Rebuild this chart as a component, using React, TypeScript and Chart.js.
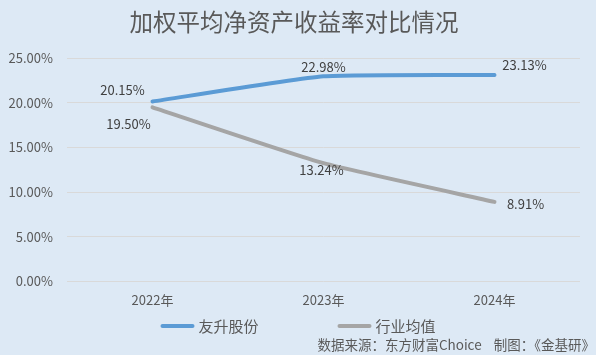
import React, { useEffect, useRef } from "react";
import { Chart, registerables } from "chart.js";

Chart.register(...registerables);

const categories = ["2022年", "2023年", "2024年"];
const seriesNames = ["友升股份", "行业均值"];
const youshengValues = [20.15, 22.98, 23.13];
const industryValues = [19.5, 13.24, 8.91];
const yTicks = [0, 5, 10, 15, 20, 25];
const colors = ["#5b9bd5", "#a5a5a5"];

const FONT = '"Microsoft YaHei", "Noto Sans CJK SC", "Noto Sans", sans-serif';

// label offsets (dx, dy) per series per point
const labelOffsets = [
  [[-30, -11], [0, -9], [30, -10]],
  [[-24, 17], [-2, 7], [31, 2]],
];

const labelPlugin = {
  id: "labels",
  afterDatasetsDraw(chart: any) {
    const ctx = chart.ctx;
    ctx.save();
    ctx.font = "13px " + FONT;
    ctx.fillStyle = "#404040";
    ctx.textAlign = "center";
    ctx.textBaseline = "middle";
    chart.data.datasets.forEach((ds: any, di: number) => {
      const meta = chart.getDatasetMeta(di);
      meta.data.forEach((pt: any, i: number) => {
        const [dx, dy] = labelOffsets[di][i];
        ctx.fillText(ds.data[i].toFixed(2) + "%", pt.x + dx, pt.y + dy);
      });
    });
    ctx.restore();
  },
};

const legendPlugin = {
  id: "customLegend",
  afterDraw(chart: any) {
    const ctx = chart.ctx;
    ctx.save();
    ctx.font = "15px " + FONT;
    ctx.textBaseline = "middle";
    const lineW = 34;
    const gap = 4;
    const itemGap = 79;
    const widths = seriesNames.map((n) => ctx.measureText(n).width);
    const total = widths.reduce((a, w) => a + lineW + gap + w, 0) + itemGap * (seriesNames.length - 1);
    let x = chart.width / 2 - total / 2;
    const y = 326;
    seriesNames.forEach((n, i) => {
      ctx.strokeStyle = colors[i];
      ctx.lineWidth = 4;
      ctx.lineCap = "round";
      ctx.beginPath();
      ctx.moveTo(x + 2, y);
      ctx.lineTo(x + lineW - 2, y);
      ctx.stroke();
      x += lineW + gap;
      ctx.fillStyle = "#595959";
      ctx.textAlign = "left";
      ctx.fillText(n, x, y);
      x += widths[i] + itemGap;
    });
    ctx.font = "13.5px " + FONT;
    ctx.textAlign = "right";
    ctx.fillText("数据来源：东方财富Choice    制图：《金基研》", 595, 345);
    ctx.restore();
  },
};

const bgPlugin = {
  id: "bg",
  beforeDraw(chart: any) {
    const ctx = chart.ctx;
    ctx.save();
    ctx.fillStyle = "#dde9f5";
    ctx.fillRect(0, 0, chart.width, chart.height);
    ctx.restore();
  },
};

export default function App() {
  const ref = useRef<HTMLCanvasElement>(null);
  useEffect(() => {
    document.body.style.margin = "0";
    const chart = new Chart(ref.current!, {
      type: "line",
      data: {
        labels: categories,
        datasets: seriesNames.map((name, i) => ({
          label: name,
          data: i === 0 ? youshengValues : industryValues,
          borderColor: colors[i],
          backgroundColor: colors[i],
          borderWidth: 4,
          pointRadius: 0,
          tension: 0.15,
          borderCapStyle: "round",
        })),
      },
      options: {
        animation: false,
        responsive: false,
        layout: { padding: { left: 8, right: 16, top: 0, bottom: 44 } },
        plugins: {
          title: {
            display: true,
            text: "加权平均净资产收益率对比情况",
            color: "#595959",
            font: { size: 23.5, family: FONT, weight: "normal" },
            padding: { top: 8, bottom: 22 },
          },
          legend: { display: false },
          tooltip: { enabled: false },
        },
        scales: {
          x: {
            offset: true,
            grid: { display: false },
            border: { display: false },
            ticks: { color: "#595959", font: { size: 13, family: FONT }, padding: 3 },
          },
          y: {
            min: 0,
            max: 25,
            afterBuildTicks(axis: any) {
              axis.ticks = yTicks.map((v) => ({ value: v }));
            },
            afterFit(axis: any) {
              axis.width = 59;
            },
            grid: { color: "#d9d9d9", drawTicks: false },
            border: { display: false },
            ticks: {
              color: "#595959",
              font: { size: 13, family: FONT },
              padding: 14,
              callback: (v: any) => Number(v).toFixed(2) + "%",
            },
          },
        },
      },
      plugins: [bgPlugin, labelPlugin, legendPlugin],
    } as any);
    return () => chart.destroy();
  }, []);
  return (
    <div style={{ width: 596, height: 355 }}>
      <canvas ref={ref} width={596} height={355} />
    </div>
  );
}
